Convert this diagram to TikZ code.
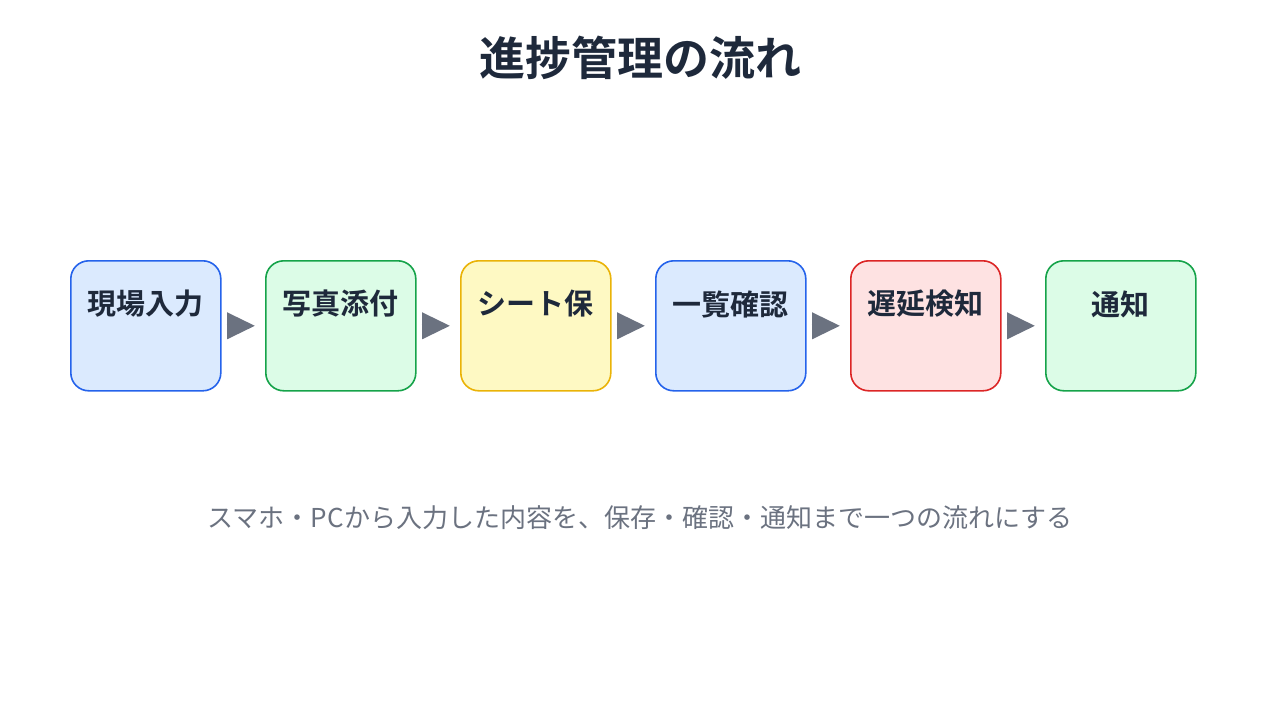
\documentclass[tikz,border=0pt]{standalone}
\usepackage{fontspec}
\newfontfamily\cjk{Noto Sans CJK JP}
\newfontfamily\cjkbold{Noto Sans CJK JP Bold}
\usetikzlibrary{positioning,arrows.meta}
\definecolor{ink}{HTML}{1E293B}
\definecolor{greyink}{HTML}{6B7280}
\definecolor{bluefill}{RGB}{219,234,254}
\definecolor{blueline}{RGB}{37,99,235}
\definecolor{greenfill}{RGB}{220,252,231}
\definecolor{greenline}{RGB}{22,163,74}
\definecolor{yellowfill}{RGB}{254,249,195}
\definecolor{yellowline}{RGB}{234,179,8}
\definecolor{redfill}{RGB}{254,226,226}
\definecolor{redline}{RGB}{220,38,38}
\tikzset{
  stage/.style={draw=#1line, fill=#1fill, line width=1.6pt, rounded corners=18pt,
    minimum width=150pt, minimum height=130pt, anchor=north west},
  stagetext/.style={font=\cjkbold\fontsize{29}{34}\selectfont, text=ink},
  flow/.style={draw=greyink, line width=4pt, -{Triangle[length=28pt,width=26pt]}},
}
\begin{document}
\begin{tikzpicture}[x=1pt,y=-1pt]
  \useasboundingbox (0,0) rectangle (1280,720);

  \node[font=\cjkbold\fontsize{46}{52}\selectfont, text=ink] (title) at (640,58) {進捗管理の流れ};

  \node[stage=blue] (s1) at (70,260) {};
  \node[stage=green] (s2) at (265,260) {};
  \node[stage=yellow] (s3) at (460,260) {};
  \node[stage=blue] (s4) at (655,260) {};
  \node[stage=red] (s5) at (850,260) {};
  \node[stage=green] (s6) at (1045,260) {};

  \node[stagetext] (t1) at (145,304) {現場入力};
  \node[stagetext] (t2) at (340,304) {写真添付};
  \node[stagetext] (t3) at (535,304) {シート保};
  \node[stagetext] (t4) at (730,304) {一覧確認};
  \node[stagetext] (t5) at (925,304) {遅延検知};
  \node[stagetext] (t6) at (1120,304) {通知};

  \foreach \a/\b in {s1/s2,s2/s3,s3/s4,s4/s5,s5/s6}
    \draw[flow] ([xshift=5pt]\a.east) -- ([xshift=-10pt]\b.west);

  \node[font=\cjk\fontsize{26}{30}\selectfont, text=greyink] (note) at (640,518)
    {スマホ・PCから入力した内容を、保存・確認・通知まで一つの流れにする};
\end{tikzpicture}
\end{document}
